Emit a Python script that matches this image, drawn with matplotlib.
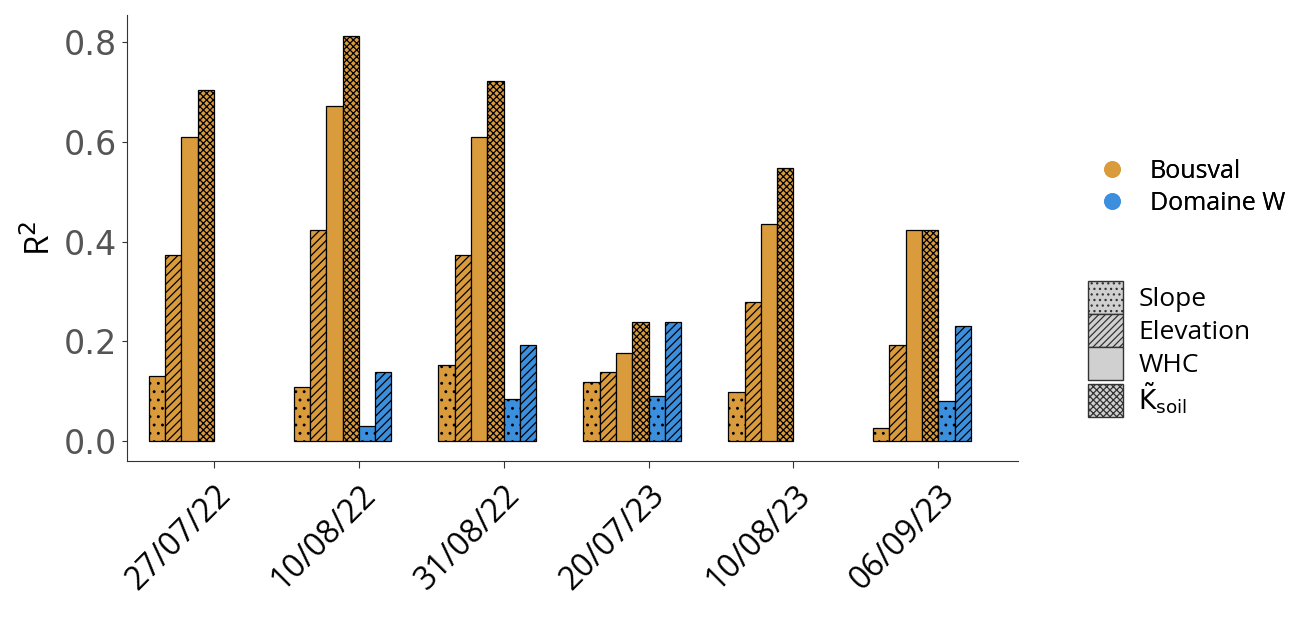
import numpy as np
import matplotlib.pyplot as plt
from matplotlib.patches import Patch
from matplotlib.lines import Line2D

plt.rcParams['hatch.linewidth'] = 0.9

dates = ["27/07/22", "10/08/22", "31/08/22", "20/07/23", "10/08/23", "06/09/23"]
# Bousval
bous_slope = [0.13, 0.108, 0.152, 0.118, 0.098, 0.026]
bous_elev = [0.373, 0.423, 0.373, 0.138, 0.28, 0.193]
bous_whc = [0.61, 0.673, 0.61, 0.177, 0.435, 0.423]
bous_ksoil = [0.705, 0.813, 0.723, 0.238, 0.548, 0.423]
# Domaine W (missing -> nan)
dw_slope = [np.nan, 0.031, 0.085, 0.09, np.nan, 0.08]
dw_elev = [np.nan, 0.138, 0.193, 0.238, np.nan, 0.23]

c_bous = "#D99B3C"
c_dw = "#3B8FDD"

fig = plt.figure(figsize=(13.11, 6.19), dpi=100)
ax = fig.add_axes([127 / 1311, 1 - 461 / 619, (1018 - 127) / 1311, (461 - 15) / 619])

x = np.arange(len(dates))
w = 0.1125
series = [
    (bous_slope, c_bous, ".."),
    (bous_elev, c_bous, "////"),
    (bous_whc, c_bous, None),
    (bous_ksoil, c_bous, "xxxxx"),
    (dw_slope, c_dw, ".."),
    (dw_elev, c_dw, "////"),
]
for i, (vals, col, h) in enumerate(series):
    ax.bar(x + (i - 3.5) * w, vals, width=w, color=col, edgecolor="black",
           linewidth=0.9, hatch=h)

ax.set_xlim(-0.6, 5.55)
ax.set_ylim(-0.04, 0.855)
ax.set_yticks([0.0, 0.2, 0.4, 0.6, 0.8])
ax.set_yticklabels(["0.0", "0.2", "0.4", "0.6", "0.8"])
ax.set_xticks(x)
ax.set_xticklabels(dates, rotation=45, ha="right", rotation_mode="anchor",
                   fontsize=23, family="Open Sans")
ax.tick_params(axis="y", labelsize=24, labelcolor="#555555", color="#333333")
ax.tick_params(axis="x", color="#333333", length=5, pad=8)
for s in ["top", "right"]:
    ax.spines[s].set_visible(False)
for s in ["left", "bottom"]:
    ax.spines[s].set_color("#333333")
ax.set_ylabel("R$^2$", fontsize=24, family="Open Sans")

site_handles = [
    Line2D([], [], marker="o", ls="", color=c_bous, markersize=11, label="Bousval"),
    Line2D([], [], marker="o", ls="", color=c_dw, markersize=11, label="Domaine W"),
]
leg1 = fig.legend(handles=site_handles, loc="upper left", bbox_to_anchor=(0.812, 0.78),
                  frameon=False, prop={"family": "Open Sans", "size": 18},
                  handletextpad=0.5, labelspacing=0.3)
fig.add_artist(leg1)

var_handles = [
    Patch(facecolor="#d0d0d0", edgecolor="#333333", hatch="...", label="Slope"),
    Patch(facecolor="#d0d0d0", edgecolor="#333333", hatch="/////", label="Elevation"),
    Patch(facecolor="#d0d0d0", edgecolor="#333333", label="WHC"),
    Patch(facecolor="#d0d0d0", edgecolor="#333333", hatch="xxxxx",
          label=r"$\tilde{\mathrm{K}}_{\mathrm{soil}}$"),
]
fig.legend(handles=var_handles, loc="upper left", bbox_to_anchor=(0.812, 0.585),
           frameon=False, prop={"family": "Open Sans", "size": 19},
           handlelength=1.3, handleheight=1.55, labelspacing=0.0, handletextpad=0.6)

fig.savefig("out.png", dpi=100)
